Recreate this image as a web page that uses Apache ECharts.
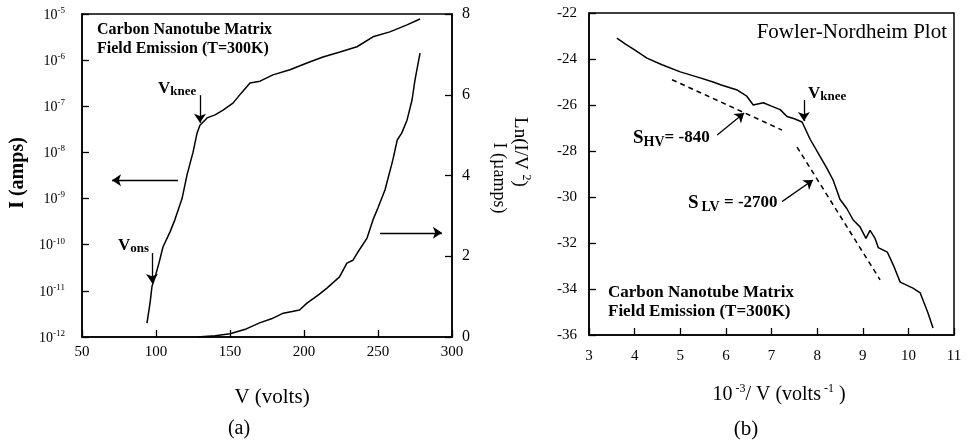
<!DOCTYPE html>
<html>
<head>
<meta charset="utf-8">
<script src="https://cdn.jsdelivr.net/npm/echarts@6/dist/echarts.min.js"></script>
<style>html,body{margin:0;padding:0;background:#fff;}#c{width:970px;height:447px;}</style>
</head>
<body>
<div id="c"></div>
<script>
// ---- Panel (a): I-V data ----
const logVolts = [93.9, 96, 97.3, 99.3, 102, 104.7, 109.5, 112.8, 117.6, 121, 125, 127.7, 129.7, 134.5, 139.9, 145.3, 152, 158, 163.5, 170.3, 179, 190.5, 202, 212.8, 224.3, 235.8, 246.6, 258, 269.6, 278.4];
const logAmps = [2.0e-12, 5.5e-12, 1.26e-11, 1.95e-11, 4.0e-11, 8.9e-11, 1.9e-10, 3.5e-10, 1.0e-9, 3.3e-9, 1.0e-8, 2.6e-8, 3.9e-8, 5.6e-8, 6.5e-8, 8.3e-8, 1.17e-7, 2.0e-7, 3.2e-7, 3.5e-7, 4.8e-7, 6.2e-7, 8.7e-7, 1.17e-6, 1.5e-6, 1.95e-6, 3.2e-6, 4.1e-6, 5.8e-6, 7.8e-6];
const linVolts = [127.7, 140, 150, 161, 170, 178, 186, 192, 197, 202, 210, 215.5, 224, 229, 233, 236, 242.6, 246.6, 250, 254.7, 260, 263, 266, 269.6, 273, 275, 278.4];
const linMicroAmps = [0, 0.03, 0.08, 0.2, 0.35, 0.45, 0.59, 0.63, 0.67, 0.84, 1.05, 1.21, 1.49, 1.83, 1.9, 2.08, 2.45, 2.9, 3.2, 3.64, 4.38, 4.88, 5.05, 5.37, 5.87, 6.37, 7.03];
// ---- Panel (b): Fowler-Nordheim data ----
const fnX = [3.61, 3.8, 4.0, 4.27, 4.6, 5.0, 5.4, 5.72, 5.9, 6.09, 6.25, 6.45, 6.6, 6.82, 7.0, 7.19, 7.34, 7.5, 7.67, 7.85, 8.07, 8.2, 8.35, 8.5, 8.65, 8.79, 8.94, 9.07, 9.16, 9.27, 9.34, 9.54, 9.67, 9.82, 10.1, 10.26, 10.43, 10.54];
const fnY = [-23.09, -23.35, -23.6, -23.96, -24.25, -24.56, -24.8, -25.0, -25.13, -25.25, -25.35, -25.6, -26.0, -25.9, -26.05, -26.2, -26.5, -26.6, -26.74, -27.5, -28.26, -28.7, -29.26, -30.1, -30.5, -31.0, -31.3, -31.8, -31.45, -31.8, -32.2, -32.4, -32.96, -33.7, -33.96, -34.17, -35.04, -35.7];
const hvFitX = [4.82, 7.23];
const hvFitY = [-24.9, -27.09];
const lvFitX = [7.56, 9.38];
const lvFitY = [-27.83, -33.6];
// ---- axis tick settings ----
const aTicksV = {min: 50, max: 300, interval: 50};
const aTicksI = {min: 1e-12, max: 1e-5};
const aTicksMicro = {min: 0, max: 8, interval: 2};
const bTicksX = {min: 3, max: 11, interval: 1};
const bTicksY = {min: -36, max: -22, interval: 2};
// ---- annotation arrows (data coordinates) ----
const arrowsLog = [
  [[114.9, 2.51e-9], [70.3, 2.51e-9]],
  [[129.7, 1.74e-7], [129.7, 4.37e-8]],
  [[97.3, 6.6e-11], [97.3, 1.48e-11]]
];
const arrowsLin = [[[251.4, 2.58], [293.2, 2.58]]];
const arrowsFN = [
  [[5.81, -27.3], [6.4, -26.35]],
  [[7.23, -30.2], [7.91, -29.26]],
  [[7.71, -25.78], [7.71, -26.7]]
];

const FF = "'Liberation Serif','DejaVu Serif',serif";
const K = '#000';
const zip = (a, b) => a.map((v, i) => [v, b[i]]);
const axLine = {show: true, onZero: false, lineStyle: {color: K, width: 1.5}};
const axTick = {show: true, inside: true, length: 7, lineStyle: {color: K, width: 1.3}};
const mkArrows = (list) => ({
  silent: true, symbol: ['none', 'arrow'], symbolSize: 9, animation: false,
  label: {show: false}, emphasis: {disabled: true},
  lineStyle: {color: K, width: 1.3, type: 'solid'},
  data: list.map(p => [{coord: p[0]}, {coord: p[1]}])
});

function txt(x, y, text, o) {
  return {type: 'text', x: x, y: y, rotation: o.rotation || 0, silent: true,
    style: Object.assign({text: text, fill: K, fontFamily: FF, fontSize: 16, align: 'left', verticalAlign: 'middle'}, o.style || {})};
}

const chart = echarts.init(document.getElementById('c'), null, {renderer: 'canvas'});
const option = {
  animation: false,
  backgroundColor: '#fff',
  grid: [
    {left: 82, top: 14, width: 370, height: 323, show: true, borderColor: K, borderWidth: 1.5, outerBoundsMode: 'none'},
    {left: 589, top: 13, width: 365, height: 322, show: true, borderColor: K, borderWidth: 1.5, outerBoundsMode: 'none'}
  ],
  xAxis: [
    Object.assign({gridIndex: 0, type: 'value', axisLine: axLine, axisTick: axTick, splitLine: {show: false},
      axisLabel: {margin: 8, fontSize: 15, fontFamily: FF, color: K}}, aTicksV),
    Object.assign({gridIndex: 1, type: 'value', axisLine: axLine, axisTick: axTick, splitLine: {show: false},
      axisLabel: {margin: 14, fontSize: 15, fontFamily: FF, color: K}}, bTicksX)
  ],
  yAxis: [
    Object.assign({gridIndex: 0, type: 'log', logBase: 10, splitNumber: 7, axisLine: axLine, axisTick: axTick, splitLine: {show: false},
      axisLabel: {margin: 17, color: K, fontFamily: FF,
        formatter: v => '{b|10}{s|' + Math.round(Math.log10(v)) + '}',
        rich: {b: {fontSize: 14, fontFamily: FF, color: K, lineHeight: 16, verticalAlign: 'bottom'},
               s: {fontSize: 9, fontFamily: FF, color: K, lineHeight: 9, verticalAlign: 'top'}}}}, aTicksI),
    Object.assign({gridIndex: 0, type: 'value', position: 'right', axisLine: axLine, axisTick: axTick, splitLine: {show: false},
      axisLabel: {margin: 10, fontSize: 16, fontFamily: FF, color: K}}, aTicksMicro),
    Object.assign({gridIndex: 1, type: 'value', axisLine: axLine, axisTick: axTick, splitLine: {show: false},
      axisLabel: {margin: 12, fontSize: 15, fontFamily: FF, color: K}}, bTicksY)
  ],
  series: [
    {type: 'line', xAxisIndex: 0, yAxisIndex: 0, data: zip(logVolts, logAmps), showSymbol: false, silent: true,
      lineStyle: {color: K, width: 1.5}, markLine: mkArrows(arrowsLog)},
    {type: 'line', xAxisIndex: 0, yAxisIndex: 1, data: zip(linVolts, linMicroAmps), showSymbol: false, silent: true,
      lineStyle: {color: K, width: 1.5}, markLine: mkArrows(arrowsLin)},
    {type: 'line', xAxisIndex: 1, yAxisIndex: 2, data: zip(fnX, fnY), showSymbol: false, silent: true,
      lineStyle: {color: K, width: 1.5}, markLine: mkArrows(arrowsFN)},
    {type: 'line', xAxisIndex: 1, yAxisIndex: 2, data: zip(hvFitX, hvFitY), showSymbol: false, silent: true,
      lineStyle: {color: K, width: 1.5, type: [5, 4]}},
    {type: 'line', xAxisIndex: 1, yAxisIndex: 2, data: zip(lvFitX, lvFitY), showSymbol: false, silent: true,
      lineStyle: {color: K, width: 1.5, type: [5, 4]}}
  ],
  graphic: [
    // panel (a) texts
    txt(97, 30, 'Carbon Nanotube Matrix', {style: {fontWeight: 'bold', fontSize: 16}}),
    txt(97, 49, 'Field Emission (T=300K)', {style: {fontWeight: 'bold', fontSize: 16}}),
    txt(158, 80, '{v|V}{s|knee}', {style: {verticalAlign: 'top', rich: {
      v: {fontSize: 17, lineHeight: 18, fontWeight: 'bold', fontFamily: FF, verticalAlign: 'top'},
      s: {fontSize: 13, lineHeight: 13, fontWeight: 'bold', fontFamily: FF, padding: [9, 0, 0, 0], verticalAlign: 'bottom'}}}}),
    txt(118, 237, '{v|V}{s|ons}', {style: {verticalAlign: 'top', rich: {
      v: {fontSize: 17, lineHeight: 18, fontWeight: 'bold', fontFamily: FF, verticalAlign: 'top'},
      s: {fontSize: 13, lineHeight: 13, fontWeight: 'bold', fontFamily: FF, padding: [9, 0, 0, 0], verticalAlign: 'bottom'}}}}),
    txt(18, 173, 'I (amps)', {rotation: Math.PI / 2, style: {align: 'center', fontSize: 20, fontWeight: 'bold'}}),
    txt(499, 178, 'I (\u00b5amps)', {rotation: -Math.PI / 2, style: {align: 'center', fontSize: 18}}),
    txt(272, 397, 'V (volts)', {style: {align: 'center', fontSize: 21}}),
    txt(239, 429, '(a)', {style: {align: 'center', fontSize: 20}}),
    // panel (b) texts
    txt(947, 32, 'Fowler-Nordheim Plot', {style: {align: 'right', fontSize: 21}}),
    txt(608, 293, 'Carbon Nanotube Matrix', {style: {fontWeight: 'bold', fontSize: 17}}),
    txt(608, 312, 'Field Emission (T=300K)', {style: {fontWeight: 'bold', fontSize: 17}}),
    txt(808, 85, '{v|V}{s|knee}', {style: {verticalAlign: 'top', rich: {
      v: {fontSize: 17, lineHeight: 18, fontWeight: 'bold', fontFamily: FF, verticalAlign: 'top'},
      s: {fontSize: 13, lineHeight: 13, fontWeight: 'bold', fontFamily: FF, padding: [9, 0, 0, 0], verticalAlign: 'bottom'}}}}),
    txt(633, 129, '{s|S}{sub|HV}{t|= -840}', {style: {verticalAlign: 'top', rich: {
      s: {fontSize: 19, lineHeight: 20, fontWeight: 'bold', fontFamily: FF, verticalAlign: 'top'},
      sub: {fontSize: 14, lineHeight: 14, fontWeight: 'bold', fontFamily: FF, padding: [9, 0, 0, 0], verticalAlign: 'bottom'},
      t: {fontSize: 17, lineHeight: 20, fontWeight: 'bold', fontFamily: FF, verticalAlign: 'top'}}}}),
    txt(688, 194, '{s|S}{sub|LV}{t| = -2700}', {style: {verticalAlign: 'top', rich: {
      s: {fontSize: 19, lineHeight: 20, fontWeight: 'bold', fontFamily: FF, verticalAlign: 'top'},
      sub: {fontSize: 14, lineHeight: 14, fontWeight: 'bold', fontFamily: FF, padding: [14, 0, 0, 3], verticalAlign: 'bottom'},
      t: {fontSize: 17, lineHeight: 20, fontWeight: 'bold', fontFamily: FF, verticalAlign: 'top'}}}}),
    txt(521, 152, '{n|Ln(I/V }{p|2}{n|)}', {rotation: -Math.PI / 2, style: {align: 'center', rich: {
      n: {fontSize: 19, lineHeight: 22, fontFamily: FF, verticalAlign: 'bottom'},
      p: {fontSize: 12, lineHeight: 12, fontFamily: FF, verticalAlign: 'top'}}}}),
    txt(779, 394, '{n|10}{p| -3}{n|/ V (volts}{p| -1}{n| )}', {style: {align: 'center', rich: {
      n: {fontSize: 20, lineHeight: 22, fontFamily: FF, verticalAlign: 'bottom'},
      p: {fontSize: 12, lineHeight: 12, fontFamily: FF, verticalAlign: 'top'}}}}),
    txt(746, 429, '(b)', {style: {align: 'center', fontSize: 21}})
  ]
};
chart.setOption(option);
</script>
</body>
</html>
